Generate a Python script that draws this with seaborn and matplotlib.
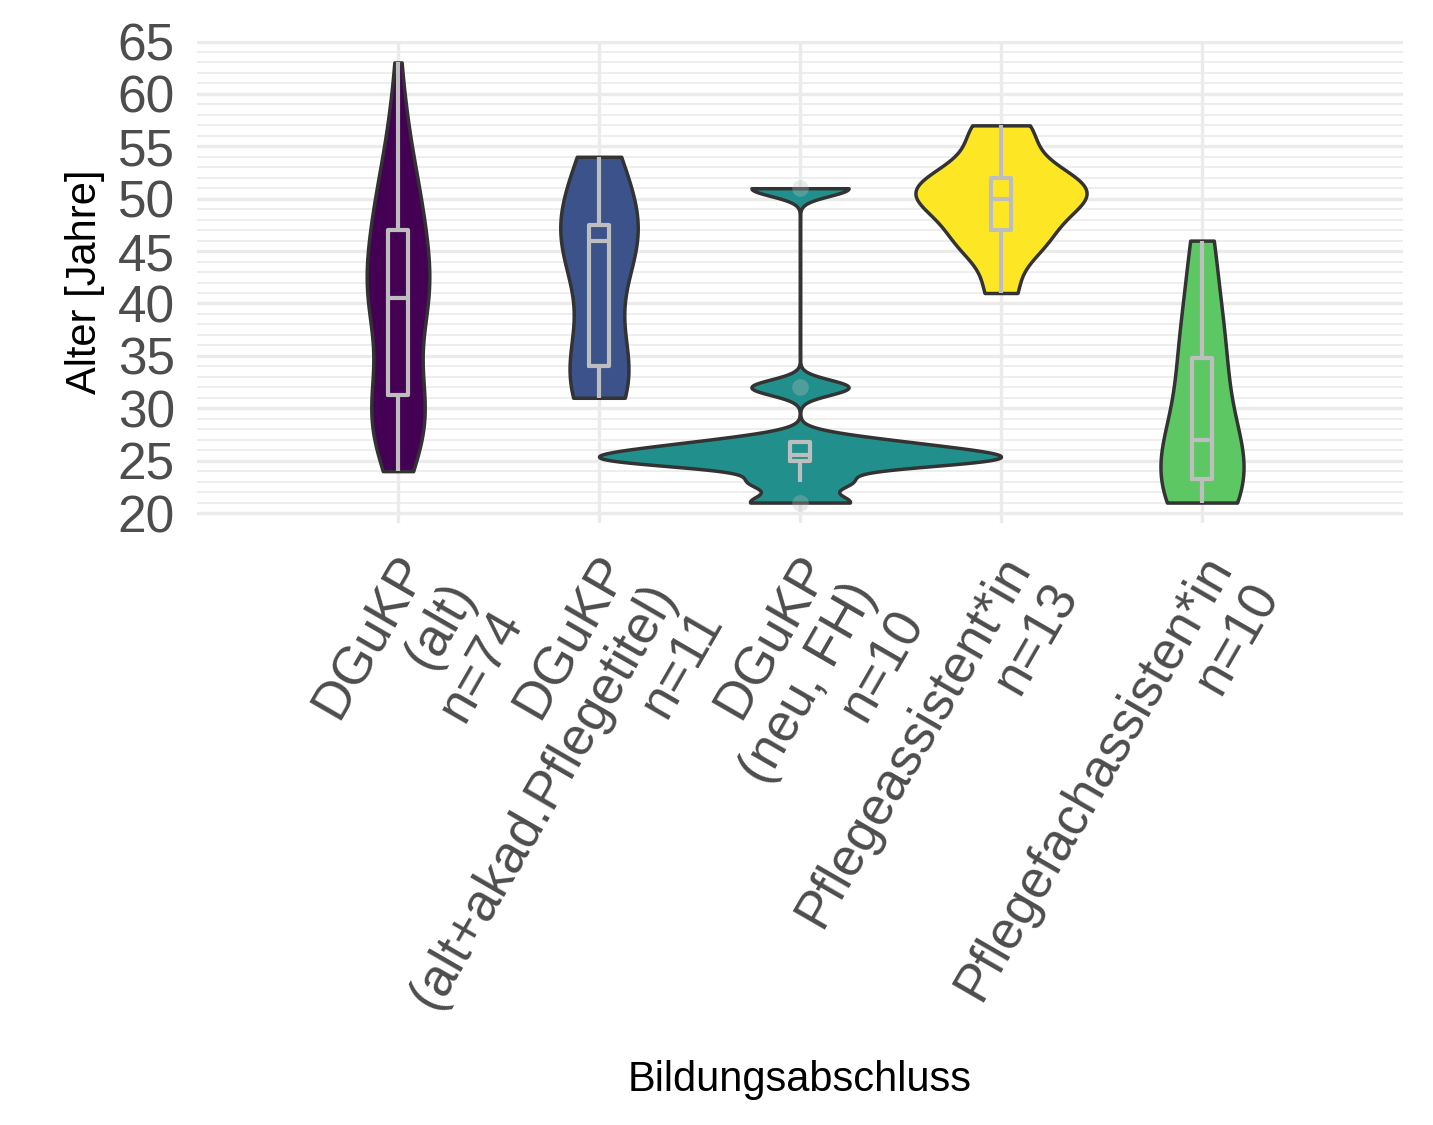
import numpy as np
import pandas as pd
import matplotlib
matplotlib.use("Agg")
import matplotlib.pyplot as plt
from matplotlib.ticker import MultipleLocator
from matplotlib.transforms import ScaledTranslation
import seaborn as sns

# ---------------- data ----------------
categories = [
    "DGuKP\n(alt)\nn=74",
    "DGuKP\n(alt+akad.Pflegetitel)\nn=11",
    "DGuKP\n(neu, FH)\nn=10",
    "Pflegeassistent*in\nn=13",
    "Pflegefachassisten*in\nn=10",
]
ages_dgukp_alt = [24, 24, 25, 25, 26, 26, 27, 27, 28, 28, 28, 29, 29, 29, 30, 30, 30, 31, 31,
                  32, 32, 32, 33, 33, 34, 35, 36, 37, 37, 38, 38, 39, 39, 39, 40, 40, 40,
                  41, 41, 41, 42, 42, 42, 43, 43, 43, 44, 44, 44, 45, 45, 46, 46, 47, 47, 47,
                  48, 48, 49, 49, 50, 50, 51, 51, 52, 52, 53, 54, 55, 56, 57, 58, 60, 63]
ages_dgukp_akad = [31, 33, 34, 34, 42, 46, 46, 47, 48, 52, 54]
ages_dgukp_neu = [21, 23, 25, 25, 25, 26, 26, 27, 32, 51]
ages_assistent = [41, 45, 46, 47, 49, 50, 50, 51, 51, 52, 53, 56, 57]
ages_fachassistent = [21, 22, 23, 24, 26, 28, 34, 35, 40, 46]
colors = ["#440154", "#3B528B", "#21908C", "#FDE725", "#5DC863"]

groups = [ages_dgukp_alt, ages_dgukp_akad, ages_dgukp_neu, ages_assistent, ages_fachassistent]
df = pd.DataFrame({
    "Bildungsabschluss": np.concatenate([[c] * len(g) for c, g in zip(categories, groups)]),
    "Alter": np.concatenate(groups).astype(float),
})
palette = dict(zip(categories, colors))


def nrd0(kde):
    """R's default bandwidth (Silverman's rule of thumb) as a factor of the sd."""
    x = kde.dataset[0]
    n = x.size
    sd = x.std(ddof=1)
    q75, q25 = np.percentile(x, [75, 25])
    lo = min(sd, (q75 - q25) / 1.34)
    bw = 0.9 * lo * n ** -0.2
    return bw / sd


# ---------------- plot ----------------
sns.set_theme(style="white")
plt.rcParams["font.family"] = ["Liberation Sans", "DejaVu Sans"]

W, H, DPI = 1433, 1125, 100
fig = plt.figure(figsize=(W / DPI, H / DPI), dpi=DPI)
ax = fig.add_axes([197 / W, 1 - 523 / H, (1403 - 197) / W, (523 - 41) / H])

sns.violinplot(
    data=df, x="Bildungsabschluss", y="Alter", hue="Bildungsabschluss",
    order=categories, hue_order=categories, palette=palette, legend=False,
    inner=None, cut=0, density_norm="area", common_norm=True, width=2.0,
    bw_method=nrd0, gridsize=600, linewidth=2.5, linecolor="#333333",
    saturation=1, ax=ax,
)
sns.boxplot(
    data=df, x="Bildungsabschluss", y="Alter", order=categories,
    width=0.1, fill=False, color="#BEBEBE", linewidth=3.0, showcaps=False,
    whis=1.5,
    flierprops=dict(marker="o", markersize=12, markerfacecolor="#BEBEBE",
                    markeredgecolor="none", alpha=0.3),
    ax=ax,
)

ax.set_xlim(-1, 5)
ax.set_ylim(19.05, 65.05)
ax.set_yticks(np.arange(20, 66, 5))
ax.yaxis.set_minor_locator(MultipleLocator(1))
ax.set_xticks(range(len(categories)))

ax.set_axisbelow(True)
ax.grid(which="major", axis="both", color="#EBEBEB", linewidth=2.4)
ax.grid(which="minor", axis="y", color="#EBEBEB", linewidth=1.2)
for s in ax.spines.values():
    s.set_visible(False)

ax.tick_params(axis="both", which="both", length=0, labelsize=37, labelcolor="#4D4D4D")
ax.tick_params(axis="y", pad=16)
ax.tick_params(axis="x", pad=17)

ax.set_xticklabels(categories, rotation=60, ha="right", va="top", fontsize=38,
                   rotation_mode="anchor", multialignment="right", linespacing=1.12)
offset = ScaledTranslation(-4 / DPI, 0, fig.dpi_scale_trans)
for lab in ax.get_xticklabels():
    lab.set_transform(lab.get_transform() + offset)

ax.set_ylabel("Alter [Jahre]", fontsize=30, color="black")
ax.yaxis.set_label_coords((105 - 197) / (1403 - 197), 0.5)
ax.set_xlabel("Bildungsabschluss", fontsize=30, color="black")
ax.xaxis.set_label_coords(0.5, (523 - 1060) / (523 - 41))

fig.savefig("out.png", dpi=DPI)
